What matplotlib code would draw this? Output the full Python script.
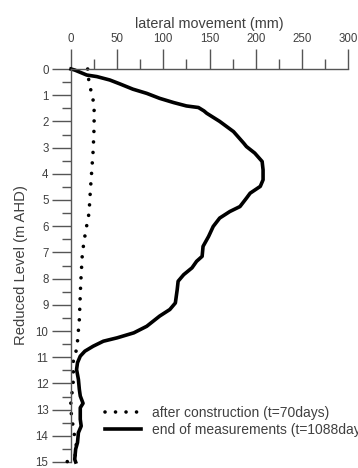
import numpy as np
import matplotlib.pyplot as plt
from matplotlib.ticker import MultipleLocator

plt.rcParams['font.family'] = ['Liberation Sans', 'DejaVu Sans']

# end of measurements profile (t=1088days)
end_level = [0, 0.04, 0.23, 0.29, 0.42, 0.57, 0.77, 0.93, 1.12, 1.28, 1.41, 1.47,
             1.6, 1.69, 2.0, 2.39, 2.83, 2.96, 3.21, 3.53, 3.85, 4.23,
             4.48, 4.74, 4.93, 5.25, 5.44, 5.69, 6.01, 6.39, 6.77, 7.15, 7.34, 7.59,
             7.85, 8.10, 8.42, 8.93, 9.18, 9.43, 9.82, 10.07, 10.26, 10.39, 10.58,
             10.77, 10.96, 11.21, 11.47, 11.85, 12.23, 12.48, 12.76, 12.93, 13.37,
             13.63, 13.88, 14.26, 14.51, 14.9, 15.0]
end_move = [0, 4, 17, 28, 42, 53, 67, 82, 96, 111, 125, 138,
            144, 147, 161, 176, 187, 190, 199, 207, 208, 208,
            205, 194, 190, 183, 172, 161, 154, 149, 143, 142, 136, 131,
            122, 116, 115, 113, 107, 96, 82, 68, 50, 35, 24,
            15, 10, 7, 6, 8, 9, 10, 13, 10, 10,
            11, 8, 7, 5, 4, 5]

# after construction profile (t=70days)
con_level = [0, 0.38, 0.74, 1.1, 1.43, 2.2, 3.09, 4.6, 5.5, 6.26, 7.02, 8.16,
             9.56, 10.39, 10.77, 11.15, 11.85, 12.23, 12.55, 12.9, 13.3, 13.69,
             14.13, 14.45, 14.77, 15.0]
con_move = [18, 19, 21, 23.5, 25, 25, 24, 21, 19.5, 15.5, 12.3, 10.5,
            9, 7, 5.4, 2.5, 2.5, 1.8, 0, -0.4, 0.7, 2.5,
            4.3, 6.2, 4.3, -4.7]

grey = '#555555'
text_grey = '#404040'

fig = plt.figure(figsize=(3.58, 4.68), dpi=100)
ax = fig.add_axes([61.8 / 358, 1 - 462 / 468, 286.2 / 358, 393 / 468])

ax.plot(con_move, con_level, color='black', lw=2.6, linestyle=(0, (0.01, 2.9)),
        dash_capstyle='round', clip_on=False,
        label='after construction (t=70days)')
ax.plot(end_move, end_level, color='black', lw=2.6, solid_joinstyle='round',
        clip_on=False, label='end of measurements (t=1088days)')

ax.set_xlim(-10, 300)
ax.set_ylim(15, 0)

# axes frame: only top and left, joined at the origin
ax.spines['right'].set_visible(False)
ax.spines['bottom'].set_visible(False)
ax.spines['left'].set_position(('data', 0))
ax.spines['top'].set_bounds(0, 300)
for s in ('top', 'left'):
    ax.spines[s].set_color(grey)
    ax.spines[s].set_linewidth(1.0)

ax.xaxis.tick_top()
ax.xaxis.set_label_position('top')
ax.xaxis.set_major_locator(MultipleLocator(50))
ax.xaxis.set_minor_locator(MultipleLocator(25))
ax.yaxis.set_major_locator(MultipleLocator(1))
ax.yaxis.set_minor_locator(MultipleLocator(0.5))
ax.tick_params(axis='x', which='major', length=14.4, width=1.0, color=grey,
               labelcolor=text_grey, labelsize=8.3, pad=3.0)
ax.tick_params(axis='x', which='minor', length=7.2, width=1.0, color=grey)
ax.tick_params(axis='y', which='major', length=13.7, width=1.0, color=grey,
               labelcolor=text_grey, labelsize=8.3, pad=2.5)
ax.tick_params(axis='y', which='minor', length=6.5, width=1.0, color=grey)

ax.set_xlabel('lateral movement (mm)', fontsize=10.4, color=text_grey)
ax.xaxis.set_label_coords(160 / 310, 1.105)
ax.set_ylabel('Reduced Level (m AHD)', fontsize=10.6, color=text_grey)
ax.yaxis.set_label_coords(-0.118, 0.5)

ax.legend(loc='center left', bbox_to_anchor=(0.15, 0.103), frameon=False,
          fontsize=10, handlelength=2.6, handletextpad=0.8, borderpad=0,
          borderaxespad=0, labelspacing=0.25, labelcolor=text_grey)

fig.savefig('out.png', dpi=100)
